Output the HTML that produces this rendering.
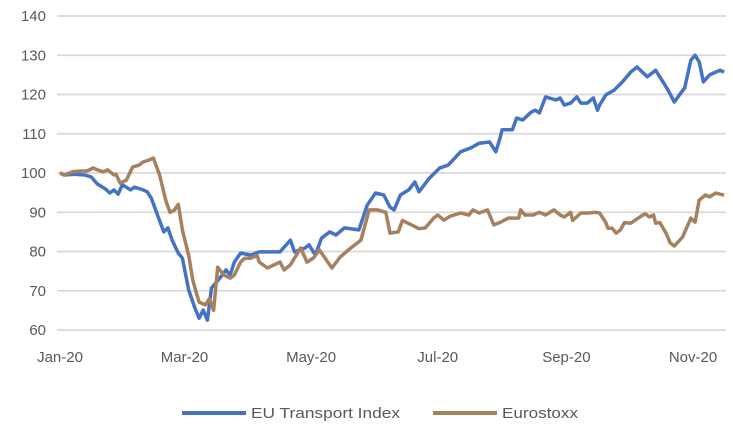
<!DOCTYPE html>
<html><head><meta charset="utf-8"><style>
body{margin:0;background:#fff;}
svg text{font-family:"Liberation Sans",sans-serif;font-size:15px;fill:#595959;}
</style></head><body>
<svg id="chart" width="733" height="433" xmlns="http://www.w3.org/2000/svg">
<g id="grid"></g>
<g id="yaxis"></g>
<g id="xaxis"></g>
<g id="series"></g>
<g>
<line x1="182" y1="413" x2="246" y2="413" stroke="#4472C4" stroke-width="4"/>
<text x="251" y="418" textLength="149" lengthAdjust="spacingAndGlyphs">EU Transport Index</text>
<line x1="433" y1="413" x2="497" y2="413" stroke="#A7805E" stroke-width="4"/>
<text x="502" y="418" textLength="76" lengthAdjust="spacingAndGlyphs">Eurostoxx</text>
</g>
</svg>
<script>
const yTicks=[60,70,80,90,100,110,120,130,140];
const xTickDays=[0,60,121,182,244,305];
const xTickLabels=["Jan-20","Mar-20","May-20","Jul-20","Sep-20","Nov-20"];
const euDays=[0,2,7,12,15,18,22,24,26,28,30,34,36,40,42,44,47,50,52,54,57,59,62,65,67,69,71,73,77,80,82,84,87,92,96,106,111,113,118,120,123,126,130,133,137,144,148,152,156,159,161,164,168,171,173,178,183,187,193,198,202,207,210,212,213,218,220,223,227,229,231,234,239,241,243,246,249,251,254,257,259,260,263,267,271,275,278,283,287,289,293,296,301,304,306,308,310,313,318,320];
const euVals=[100,99.5,99.7,99.5,99,97.2,95.9,94.9,95.7,94.6,97,95.7,96.4,95.7,95.2,93.6,89.3,85,86,82.9,79.6,78.3,70.2,65.6,63,65.1,62.5,70.7,73.2,75.3,74,77.3,79.6,79.1,79.9,79.9,82.9,79.9,80.9,81.7,79.1,83.4,85,84.2,86,85.5,91.8,94.9,94.4,91.3,90.6,94.4,95.7,97.7,95.2,98.7,101.3,102,105.4,106.4,107.6,107.9,105.4,108.9,111,111,114,113.5,115.5,116,115.3,119.4,118.6,119.1,117.3,117.8,119.4,117.8,117.8,119.1,116,117.3,119.9,121.1,123.2,125.7,127,124.5,126.2,124.5,121.1,118.1,121.7,128.8,130,128.3,123.2,125,126.2,125.7];
const esDays=[0,2,6,10,13,16,18,21,23,26,27,29,32,35,38,40,43,45,48,51,53,55,57,59,62,64,66,67,70,72,74,76,79,82,84,87,89,92,95,96,100,106,108,111,116,119,122,125,131,135,139,145,149,153,157,159,163,165,170,173,176,180,182,185,188,193,197,199,202,206,209,212,216,221,222,224,228,231,234,238,241,243,246,247,251,255,258,260,263,264,266,268,270,272,275,280,282,284,286,287,289,292,294,296,300,304,306,308,311,313,316,318,320];
const esVals=[100,99.5,100.3,100.5,100.5,101.3,100.8,100.3,100.8,99.5,99.7,97.4,98.2,101.5,102,102.8,103.3,103.8,99.5,93,90,90.5,92,85.5,79,72.7,68.9,67.1,66.4,68,65,76,74,73.2,74,77.3,78.3,78.3,79,77.3,75.8,77.3,75.3,76.6,80.9,77.3,78.3,80.4,75.8,78.6,80.4,82.9,90.6,90.6,90,84.7,85,87.9,86.6,85.8,86,88.5,89.3,88,89,89.8,89.3,90.6,89.8,90.6,86.8,87.4,88.5,88.5,90.6,89.3,89.3,90,89.3,90.6,89.3,88.8,90,87.9,89.8,89.8,90,89.8,87.4,85.9,85.9,84.7,85.5,87.4,87.2,89,89.6,88.8,89.3,87.2,87.4,84.7,82.2,81.4,83.7,88.5,87.5,93.1,94.4,93.9,94.9,94.6,94.4];
const NS="http://www.w3.org/2000/svg";
const X0=60,XPD=633/305,Y140=16,PPU=314/80;
function xs(d){return X0+d*XPD;}
function ys(v){return Y140+(140-v)*PPU;}
const grid=document.getElementById('grid'),ya=document.getElementById('yaxis'),xa=document.getElementById('xaxis'),se=document.getElementById('series');
yTicks.forEach(t=>{
 const l=document.createElementNS(NS,'line');
 l.setAttribute('x1',57);l.setAttribute('x2',726);l.setAttribute('y1',ys(t));l.setAttribute('y2',ys(t));
 l.setAttribute('stroke','#d9d9d9');l.setAttribute('stroke-width','1.8');
 
 
 grid.appendChild(l);
 const tx=document.createElementNS(NS,'text');
 tx.setAttribute('x',46);tx.setAttribute('y',ys(t)+5);tx.setAttribute('text-anchor','end');tx.textContent=t;
 
 
 ya.appendChild(tx);
});
xTickDays.forEach((d,i)=>{
 const tx=document.createElementNS(NS,'text');
 tx.setAttribute('x',xs(d));tx.setAttribute('y',362);tx.setAttribute('text-anchor','middle');tx.textContent=xTickLabels[i];
 
 
 xa.appendChild(tx);
});
function line(days,vals,color,name){
 const p=document.createElementNS(NS,'polyline');
 p.setAttribute('points',days.map((d,i)=>xs(d).toFixed(1)+','+ys(vals[i]).toFixed(1)).join(' '));
 p.setAttribute('fill','none');p.setAttribute('stroke',color);p.setAttribute('stroke-width','3.5');p.setAttribute('stroke-linejoin','round');
 
 
 se.appendChild(p);
}
line(euDays,euVals,'#4472C4','eu-transport-line');
line(esDays,esVals,'#A7805E','eurostoxx-line');
</script>
</body></html>
